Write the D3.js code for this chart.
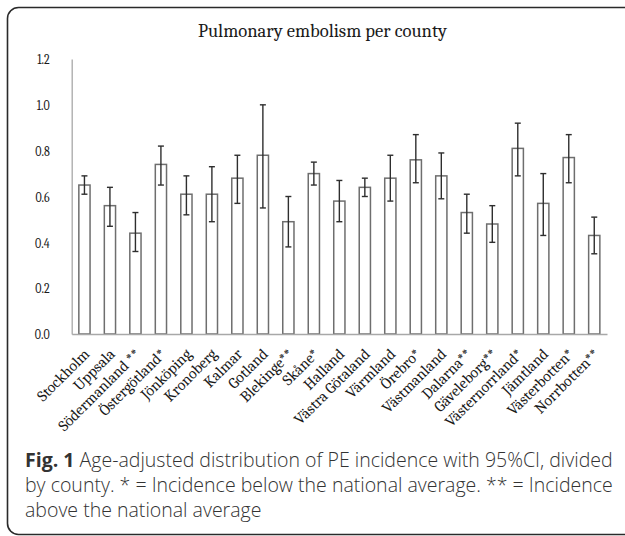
<!DOCTYPE html>
<html>
<head>
<meta charset="utf-8">
<script src="https://cdn.jsdelivr.net/npm/d3@7"></script>
<style>
  html, body { margin: 0; padding: 0; background: #fff; }
  svg { display: block; }
</style>
</head>
<body>
<svg id="chart" width="625" height="536"></svg>
<script>
// Age-adjusted PE incidence per county with 95% confidence intervals
const counties = [
  "Stockholm", "Uppsala", "Södermanland **", "Östergötland*", "Jönköping",
  "Kronoberg", "Kalmar", "Gotland", "Blekinge**", "Skåne*", "Halland",
  "Västra Götaland", "Värmland", "Örebro*", "Västmanland", "Dalarna**",
  "Gäveleborg**", "Västernorrland*", "Jämtland", "Västerbotten*", "Norrbotten**"
];
const incidence = [0.65, 0.56, 0.44, 0.74, 0.61, 0.61, 0.68, 0.78, 0.49, 0.70, 0.58,
                   0.64, 0.68, 0.76, 0.69, 0.53, 0.48, 0.81, 0.57, 0.77, 0.43];
const ciLow     = [0.61, 0.47, 0.36, 0.65, 0.52, 0.49, 0.57, 0.55, 0.38, 0.65, 0.49,
                   0.60, 0.58, 0.66, 0.59, 0.44, 0.40, 0.69, 0.43, 0.66, 0.35];
const ciHigh    = [0.69, 0.64, 0.53, 0.82, 0.69, 0.73, 0.78, 1.00, 0.60, 0.75, 0.67,
                   0.68, 0.78, 0.87, 0.79, 0.61, 0.56, 0.92, 0.70, 0.87, 0.51];
const yTicks = [0, 0.2, 0.4, 0.6, 0.8, 1.0, 1.2];

const titleText = "Pulmonary embolism per county";
const captionLines = [
  [["Fig. 1", true], [" Age-adjusted distribution of PE incidence with 95%CI, divided", false]],
  [["by county. * = Incidence below the national average. ** = Incidence", false]],
  [["above the national average", false]]
];

const svg = d3.select("#chart");
const serif = "Cambria, 'Liberation Serif', 'DejaVu Serif', serif";
const sans = "'Open Sans', 'Noto Sans', sans-serif";

// outer frame with rounded corners
svg.append("rect")
  .attr("x", 7.5).attr("y", 7.5)
  .attr("width", 700).attr("height", 527)
  .attr("rx", 11).attr("ry", 11)
  .attr("fill", "none")
  .attr("stroke", "#2a2a2a")
  .attr("stroke-width", 1.6);

const plot = { left: 71.7, right: 607, top: 59, bottom: 334 };

const x = d3.scaleBand()
  .domain(counties)
  .range([plot.left, plot.right])
  .paddingInner(0.56)
  .paddingOuter(0.28);

const y = d3.scaleLinear()
  .domain([0, 1.2])
  .range([plot.bottom, plot.top]);

// title, narrowed horizontally to its width
const titleX = 322.5, titleW = 249;
const title = svg.append("text")
  .attr("text-anchor", "middle")
  .attr("font-family", serif)
  .attr("font-size", 19)
  .attr("fill", "#1a1a1a")
  .text(titleText);
{
  const w = title.node().getComputedTextLength();
  title.attr("transform", `translate(${titleX},37) scale(${titleW / w},1)`);
}

// y axis
const yAxis = svg.append("g")
  .attr("transform", `translate(${plot.left},0)`)
  .call(d3.axisLeft(y).tickValues(yTicks).tickFormat(d3.format(".1f"))
        .tickSize(0).tickPadding(0));
yAxis.select(".domain").attr("stroke", "#a8a8a8").attr("stroke-width", 1.3);
yAxis.selectAll(".tick text")
  .attr("font-family", serif)
  .attr("font-size", 15)
  .attr("fill", "#1a1a1a")
  .attr("x", 0)
  .attr("transform", "translate(-22,0) scale(0.8,1)");

// bars
svg.append("g").selectAll("rect")
  .data(counties)
  .join("rect")
  .attr("x", d => x(d))
  .attr("y", (d, i) => y(incidence[i]))
  .attr("width", x.bandwidth())
  .attr("height", (d, i) => y(0) - y(incidence[i]))
  .attr("fill", "#fff")
  .attr("stroke", "#6e6e6e")
  .attr("stroke-width", 1.5);

// x axis line and rotated labels
const xAxis = svg.append("g")
  .attr("transform", `translate(0,${plot.bottom})`)
  .call(d3.axisBottom(x).tickSize(0).tickSizeOuter(0));
xAxis.select(".domain").attr("stroke", "#a8a8a8").attr("stroke-width", 1.3);
xAxis.selectAll(".tick text")
  .attr("font-family", serif)
  .attr("font-size", 15.5)
  .attr("fill", "#1a1a1a")
  .attr("text-anchor", "end")
  .attr("dy", null)
  .attr("y", 0)
  .attr("transform", "translate(6,21) rotate(-45)");

// 95% CI error bars
const cap = 3;
const eb = svg.append("g")
  .attr("stroke", "#2e2e2e")
  .attr("stroke-width", 1.4)
  .attr("fill", "none");
counties.forEach((c, i) => {
  const cx = x(c) + x.bandwidth() / 2;
  eb.append("line").attr("x1", cx).attr("x2", cx)
    .attr("y1", y(ciLow[i])).attr("y2", y(ciHigh[i]));
  eb.append("line").attr("x1", cx - cap).attr("x2", cx + cap)
    .attr("y1", y(ciLow[i])).attr("y2", y(ciLow[i]));
  eb.append("line").attr("x1", cx - cap).attr("x2", cx + cap)
    .attr("y1", y(ciHigh[i])).attr("y2", y(ciHigh[i]));
});

// caption below the chart
const capG = svg.append("g")
  .attr("font-family", sans)
  .attr("fill", "#333");
const lineTexts = captionLines.map((parts, li) => {
  const t = capG.append("text")
    .attr("x", 25)
    .attr("y", 467 + li * 25)
    .attr("font-size", 17);
  parts.forEach(([s, bold]) => {
    t.append("tspan")
      .attr("font-weight", bold ? 700 : 300)
      .text(s);
  });
  return t;
});
{
  const w = lineTexts[0].node().getComputedTextLength();
  const fs = 17 * 588 / w;
  lineTexts.forEach(t => t.attr("font-size", fs));
}
</script>
</body>
</html>
